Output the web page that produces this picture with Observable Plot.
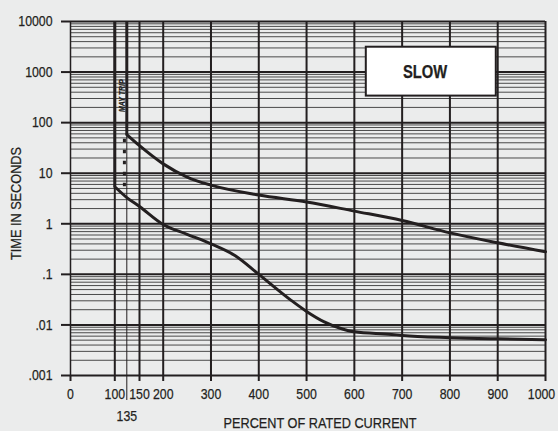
<!DOCTYPE html>
<html><head><meta charset="utf-8">
<script src="https://cdn.jsdelivr.net/npm/d3@7"></script>
<script src="https://cdn.jsdelivr.net/npm/@observablehq/plot@0.6"></script>
<style>
html,body{margin:0;padding:0;background:#ebecec;}
#chart{width:558px;height:431px;overflow:hidden;}
</style></head><body><div id="chart"></div>
<script>
// ---- data ----
const xGrid = [100, 150, 200, 300, 400, 500, 600, 700, 800, 900, 1000];
const xTicks = [0, 100, 150, 200, 300, 400, 500, 600, 700, 800, 900, 1000];
const xTickLabels = ["0","100","150","200","300","400","500","600","700","800","900",""];
const xLastTick = 1000;
const xLastLabel = "1000";
const mayTripX = 135;
const mayTripLabel = "135";
const yDecades = [0.001, 0.01, 0.1, 1, 10, 100, 1000, 10000];
const yTickLabels = [".001", ".01", ".1", "1", "10", "100", "1000", "10000"];
const upperX = [135, 150, 200, 250, 300, 400, 500, 600, 700, 800, 900, 1000];
const upperY = [58, 35, 15.3, 8.4, 5.8, 3.7, 2.7, 1.78, 1.16, 0.66, 0.42, 0.28];
const lowerX = [100, 135, 150, 200, 250, 300, 350, 400, 467, 500, 537, 572, 600, 678, 700, 800, 900, 1000];
const lowerY = [5.4, 3.3, 2.2, 0.97, 0.62, 0.40, 0.235, 0.10, 0.031, 0.0185, 0.0115, 0.0085, 0.0073, 0.0065, 0.0062, 0.0056, 0.0053, 0.0051];
const dashedX = 128;
const slowBox = {x1: 625, x2: 897, y1: 335, y2: 3100};
const slowLabel = {x: 748, y: 1000, text: "SLOW"};
const mayTripNote = {x: 120.5, y: 340, text: "MAY TRIP"};
const xTitle = "PERCENT OF RATED CURRENT";
const yTitle = "TIME IN SECONDS";

// ---- build ----
const ink = "#231f20";
const font = "'Liberation Sans', Arial, sans-serif";
const yTop = yDecades[yDecades.length - 1];
const minor = [];
for (const d of yDecades.slice(0, -1)) for (let k = 2; k <= 9; k++) minor.push(d * k);
const yLabelMap = new Map(yDecades.map((d, i) => [d, yTickLabels[i]]));
const xLabelMap = new Map(xTicks.map((d, i) => [d, xTickLabels[i]]));
const upper = upperX.map((x, i) => ({x, y: upperY[i]}));
const lower = lowerX.map((x, i) => ({x, y: lowerY[i]}));
const verticals = [
  {x: lowerX[0], y1: lowerY[0], y2: yTop},
  {x: upperX[0], y1: upperY[0], y2: yTop}
];
const dashed = [{x: dashedX, y1: lowerY[0], y2: upperY[0]}];

const chart = Plot.plot({
  width: 558, height: 431,
  marginTop: 21, marginBottom: 56, marginLeft: 70, marginRight: 13,
  style: {background: "#ebecec", fontFamily: font, fontSize: "15px", color: ink},
  x: {type: "linear", domain: [0, 100, 135, 150, 200, 1000], range: [70, 114.3, 126.3, 139, 162.7, 545]},
  y: {type: "log", domain: [yDecades[0], yTop]},
  marks: [
    Plot.ruleY(minor, {stroke: "#4a4a4a", strokeWidth: 1}),
    Plot.ruleX(xGrid, {stroke: ink, strokeWidth: 2}),
    Plot.ruleX([mayTripX], {stroke: ink, strokeWidth: 1}),
    Plot.ruleX([0], {stroke: ink, strokeWidth: 1.5}),
    Plot.ruleY(yDecades, {stroke: ink, strokeWidth: 2}),
    Plot.axisY({ticks: yDecades, tickFormat: d => yLabelMap.get(d), tickSize: 9, tickPadding: 9, strokeWidth: 2, fontSize: 15, label: null}),
    Plot.axisX({ticks: xTicks, tickFormat: d => xLabelMap.get(d), tickSize: 6, tickPadding: 7, strokeWidth: 2, fontSize: 15, label: null}),
    Plot.axisX({ticks: [xLastTick], tickFormat: () => xLastLabel, tickSize: 0, tickPadding: 13, fontSize: 15, label: null, dx: -4}),
    Plot.axisX({ticks: [mayTripX], tickFormat: () => mayTripLabel, tickSize: 25, tickPadding: 10, strokeWidth: 1, fontSize: 15, label: null}),
    Plot.rect([slowBox], {x1: "x1", x2: "x2", y1: "y1", y2: "y2", fill: "white", stroke: ink, strokeWidth: 2}),
    Plot.text([slowLabel], {x: "x", y: "y", text: "text", fontSize: 18, fontWeight: "bold", fill: ink}),
    Plot.ruleX(verticals, {x: "x", y1: "y1", y2: "y2", stroke: ink, strokeWidth: 3}),
    Plot.ruleX(dashed, {x: "x", y1: "y1", y2: "y2", stroke: ink, strokeWidth: 3, strokeDasharray: "3.5,7.5"}),
    Plot.line(upper, {x: "x", y: "y", curve: "monotone-x", stroke: ink, strokeWidth: 3}),
    Plot.line(lower, {x: "x", y: "y", curve: "monotone-x", stroke: ink, strokeWidth: 3}),
    Plot.text([mayTripNote], {x: "x", y: "y", text: "text", rotate: -90, textAnchor: "middle", fontSize: 8.5, fontWeight: "bold", fontStyle: "italic", fill: ink}),
    Plot.text([xTitle], {frameAnchor: "bottom", textAnchor: "middle", lineAnchor: "middle", dy: 48, dx: 12, fontSize: 15.5, fill: ink}),
    Plot.text([yTitle], {frameAnchor: "left", textAnchor: "middle", lineAnchor: "middle", rotate: -90, dx: -54, dy: 5, fontSize: 15.5, fill: ink})
  ]
});
document.getElementById("chart").appendChild(chart);
// condensed lettering like the original (Helvetica Condensed look), keeping each text's anchor
chart.querySelectorAll("text").forEach(t => {
  const len = t.getComputedTextLength();
  if (!(len > 0)) return;
  const b0 = t.getBBox();
  t.setAttribute("textLength", (len * 0.82).toFixed(2));
  t.setAttribute("lengthAdjust", "spacingAndGlyphs");
  const b1 = t.getBBox();
  const anchor = getComputedStyle(t).textAnchor;
  let shift;
  if (anchor === "middle") shift = (b0.x + b0.width / 2) - (b1.x + b1.width / 2);
  else if (anchor === "end") shift = (b0.x + b0.width) - (b1.x + b1.width);
  else shift = b0.x - b1.x;
  if (Math.abs(shift) > 0.01) {
    const x0 = parseFloat(t.getAttribute("x")) || 0;
    t.setAttribute("x", (x0 + shift).toFixed(2));
  }
  t.style.stroke = "currentColor";
  t.style.strokeWidth = "0.25px";
});
</script>
</body></html>
